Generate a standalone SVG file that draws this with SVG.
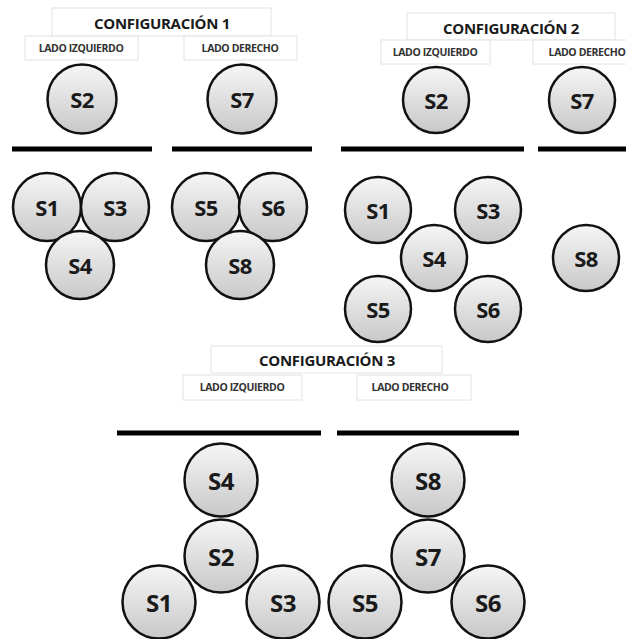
<svg xmlns="http://www.w3.org/2000/svg" width="626" height="639" viewBox="0 0 626 639">
<defs>
<linearGradient id="g" x1="0" y1="0" x2="0" y2="1">
<stop offset="0" stop-color="#f6f6f6"/>
<stop offset="1" stop-color="#c8c8c8"/>
</linearGradient>
<style>
.c{fill:url(#g);stroke:#111;stroke-width:2.5}
.t{font-family:"Open Sans","Liberation Sans",sans-serif;font-weight:bold;fill:#1a1a1a;text-anchor:middle;dominant-baseline:central}
.n{font-size:22px;letter-spacing:-0.5px}
.n3{font-size:24px;letter-spacing:-0.5px}
.ti{font-size:15px;letter-spacing:-0.3px}
.lb{font-size:10.5px;letter-spacing:-0.4px;fill:#333}
.box{fill:#fff;stroke:#e2e2e2;stroke-width:1}
.bar{stroke:#000;stroke-width:5}
</style>
</defs>
<rect width="626" height="639" fill="#fff"/>

<!-- Configuración 1 -->
<g id="cfg1-title"><rect class="box" x="52" y="8" width="219" height="28"/><text class="t ti" x="162" y="23">CONFIGURACIÓN 1</text></g>
<g id="cfg1-izq"><rect class="box" x="25" y="36" width="113" height="24"/><text class="t lb" x="81" y="48">LADO IZQUIERDO</text></g>
<g id="cfg1-der"><rect class="box" x="184" y="36" width="113" height="24"/><text class="t lb" x="240" y="48">LADO DERECHO</text></g>
<g id="cfg1-bars"><line class="bar" x1="12" y1="149" x2="152" y2="149"/><line class="bar" x1="172" y1="149" x2="312" y2="149"/></g>
<g id="c1-S2"><circle class="c" cx="82" cy="99" r="34.5"/><text class="t n" x="82" y="99">S2</text></g>
<g id="c1-S7"><circle class="c" cx="242" cy="99" r="34.5"/><text class="t n" x="242" y="99">S7</text></g>
<g id="c1-S1"><circle class="c" cx="47" cy="207" r="34"/><text class="t n" x="47" y="207">S1</text></g>
<g id="c1-S3"><circle class="c" cx="115" cy="207" r="34"/><text class="t n" x="115" y="207">S3</text></g>
<g id="c1-S4"><circle class="c" cx="80" cy="265" r="34"/><text class="t n" x="80" y="265">S4</text></g>
<g id="c1-S5"><circle class="c" cx="206" cy="207" r="34"/><text class="t n" x="206" y="207">S5</text></g>
<g id="c1-S6"><circle class="c" cx="273" cy="207" r="34"/><text class="t n" x="273" y="207">S6</text></g>
<g id="c1-S8"><circle class="c" cx="240" cy="265" r="34"/><text class="t n" x="240" y="265">S8</text></g>

<!-- Configuración 2 -->
<g id="cfg2-title"><rect class="box" x="407" y="13" width="208" height="27"/><text class="t ti" x="511" y="28">CONFIGURACIÓN 2</text></g>
<g id="cfg2-izq"><rect class="box" x="381" y="40" width="109" height="24"/><text class="t lb" x="435" y="52">LADO IZQUIERDO</text></g>
<g id="cfg2-der"><rect class="box" x="533" y="40" width="100" height="24"/><text class="t lb" x="587" y="52">LADO DERECHO</text></g>
<g id="cfg2-bars"><line class="bar" x1="341" y1="149" x2="524" y2="149"/><line class="bar" x1="538" y1="149" x2="626" y2="149"/></g>
<g id="c2-S2"><circle class="c" cx="436" cy="100" r="33"/><text class="t n" x="436" y="100">S2</text></g>
<g id="c2-S7"><circle class="c" cx="582" cy="100" r="33"/><text class="t n" x="582" y="100">S7</text></g>
<g id="c2-S1"><circle class="c" cx="378" cy="210" r="33"/><text class="t n" x="378" y="210">S1</text></g>
<g id="c2-S3"><circle class="c" cx="488" cy="210" r="33"/><text class="t n" x="488" y="210">S3</text></g>
<g id="c2-S4"><circle class="c" cx="434" cy="258" r="33"/><text class="t n" x="434" y="258">S4</text></g>
<g id="c2-S5"><circle class="c" cx="378" cy="309" r="33"/><text class="t n" x="378" y="309">S5</text></g>
<g id="c2-S6"><circle class="c" cx="488" cy="309" r="33"/><text class="t n" x="488" y="309">S6</text></g>
<g id="c2-S8"><circle class="c" cx="586" cy="258" r="33"/><text class="t n" x="586" y="258">S8</text></g>

<!-- Configuración 3 -->
<g id="cfg3-title"><rect class="box" x="211" y="346" width="231" height="27"/><text class="t ti" x="327" y="360">CONFIGURACIÓN 3</text></g>
<g id="cfg3-izq"><rect class="box" x="183" y="375" width="119" height="25"/><text class="t lb" x="242" y="387">LADO IZQUIERDO</text></g>
<g id="cfg3-der"><rect class="box" x="357" y="375" width="114" height="25"/><text class="t lb" x="410" y="387">LADO DERECHO</text></g>
<g id="cfg3-bars"><line class="bar" x1="117" y1="433" x2="321" y2="433"/><line class="bar" x1="337" y1="433" x2="519" y2="433"/></g>
<g id="c3-S4"><circle class="c" cx="221" cy="480" r="36.5"/><text class="t n3" x="221" y="480">S4</text></g>
<g id="c3-S2"><circle class="c" cx="221" cy="556" r="36.5"/><text class="t n3" x="221" y="556">S2</text></g>
<g id="c3-S1"><circle class="c" cx="159" cy="602" r="36.5"/><text class="t n3" x="159" y="602">S1</text></g>
<g id="c3-S3"><circle class="c" cx="283" cy="602" r="36.5"/><text class="t n3" x="283" y="602">S3</text></g>
<g id="c3-S8"><circle class="c" cx="428" cy="480" r="36.5"/><text class="t n3" x="428" y="480">S8</text></g>
<g id="c3-S7"><circle class="c" cx="428" cy="556" r="36.5"/><text class="t n3" x="428" y="556">S7</text></g>
<g id="c3-S5"><circle class="c" cx="365" cy="602" r="36.5"/><text class="t n3" x="365" y="602">S5</text></g>
<g id="c3-S6"><circle class="c" cx="488" cy="602" r="36.5"/><text class="t n3" x="488" y="602">S6</text></g>
</svg>
